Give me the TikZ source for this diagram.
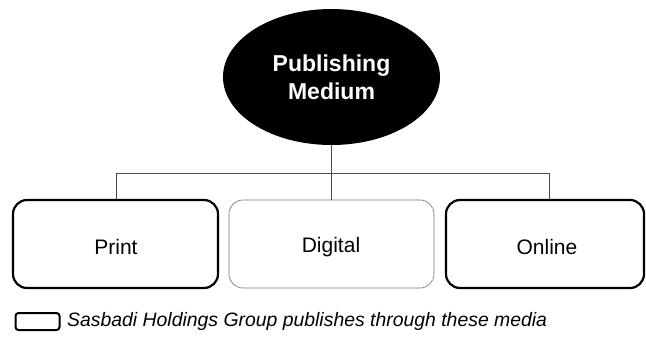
\documentclass[tikz,border=0pt]{standalone}
\usepackage{fontspec}
\setmainfont{Liberation Sans}
\usetikzlibrary{shapes.geometric}
\begin{document}
\begin{tikzpicture}[x=1pt,y=-1pt,
  thickbox/.style={draw=black,line width=2.2pt,rounded corners=14pt,minimum width=#1,minimum height=88pt,inner sep=0pt},
  thinbox/.style={draw=black!55,line width=0.6pt,rounded corners=14pt,minimum width=#1,minimum height=88pt,inner sep=0pt},
  lbl/.style={font=\fontsize{21}{24}\selectfont,inner sep=0pt},
  conn/.style={draw=black!70,line width=0.7pt}]
\useasboundingbox (0,0) rectangle (646,338);
\node[ellipse,fill=black,minimum width=217pt,minimum height=136pt,inner sep=0pt,
  font=\bfseries\fontsize{23}{28}\selectfont,text=white,align=center] (pm) at (331.5,77) {Publishing\\Medium};
\node[thickbox=205pt] (print) at (115.5,244) {};
\node[thinbox=205pt] (digital) at (331.5,244) {};
\node[thickbox=198pt] (online) at (545,244) {};
\node[lbl] (printt) at (116,247) {Print};
\node[lbl] (digitalt) at (331,247) {Digital};
\node[lbl] (onlinet) at (547,247) {Online};
\coordinate (hubl) at (116,173);
\coordinate (hubr) at (549,173);
\draw[conn] (pm.south) -- (digital.north);
\draw[conn] (hubl |- print.north) -- (hubl) -- (hubr) -- (hubr |- online.north);
\node[draw=black,line width=2pt,rounded corners=3pt,minimum width=44pt,minimum height=17pt,inner sep=0pt] (leg) at (37.5,321.5) {};
\node[anchor=west,font=\itshape\fontsize{19.4}{22}\selectfont,inner sep=0pt] (legt) at (67,321) {Sasbadi Holdings Group publishes through these media};
\end{tikzpicture}
\end{document}
